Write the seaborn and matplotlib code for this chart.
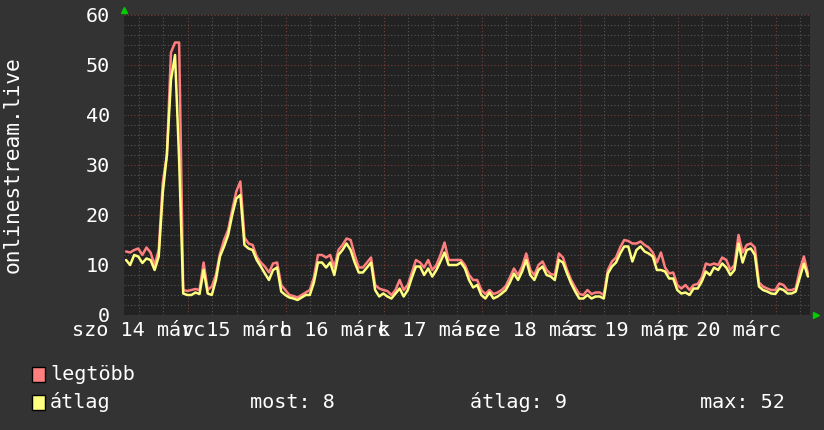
import numpy as np
import pandas as pd
import matplotlib
matplotlib.use("Agg")
import matplotlib.pyplot as plt
import matplotlib.transforms as mtransforms
from matplotlib.patches import Rectangle
import seaborn as sns

# orankenti mintak, kezdet: 2020-03-14 08:20
hours = np.arange(168)

legtobb = [
    12.7, 12.5, 13.0, 13.3, 12.0, 13.5, 12.5, 10.0, 13.0, 26.5, 32.0, 52.5, 54.5, 54.5,
    5.0, 4.8, 5.0, 5.2, 5.0, 10.5, 5.0, 5.7, 8.0, 12.3, 15.0, 17.0, 21.0, 24.7, 26.7,
    15.5, 14.3, 14.0, 11.7, 10.5, 9.7, 8.5, 10.3, 10.5, 6.0, 5.0, 4.0, 3.8, 3.5, 4.0,
    4.5, 5.0, 7.5, 12.0, 12.0, 11.5, 12.0, 9.5, 13.0, 14.0, 15.3, 15.0, 12.0, 9.5,
    9.5, 10.5, 11.5, 6.0, 5.3, 5.0, 4.8, 4.0, 5.0, 7.0, 5.0, 6.0, 8.5, 11.0, 10.5,
    9.5, 11.0, 9.0, 10.0, 12.0, 14.5, 11.0, 11.0, 11.0, 11.0, 10.0, 8.0, 7.0, 7.0,
    5.0, 4.2, 5.0, 4.2, 4.5, 5.0, 5.8, 7.5, 9.3, 8.0, 9.7, 12.3, 9.0, 8.0, 10.0,
    10.7, 9.0, 8.2, 8.0, 12.3, 11.5, 9.0, 7.0, 5.5, 4.2, 4.0, 5.0, 4.2, 4.5, 4.5,
    4.0, 9.0, 10.7, 11.5, 13.5, 15.0, 14.8, 14.3, 14.3, 14.7, 14.0, 13.5, 12.5,
    10.5, 12.5, 9.5, 8.3, 8.5, 6.0, 5.3, 6.0, 5.0, 6.0, 6.2, 7.5, 10.3, 10.0, 10.3,
    10.0, 11.5, 11.0, 9.0, 10.0, 16.0, 12.5, 14.0, 14.3, 13.5, 6.5, 5.7, 5.3, 5.0,
    5.0, 6.3, 6.0, 5.0, 5.0, 5.3, 9.0, 11.7, 8.3,
]

atlag = [
    11.0, 10.0, 12.0, 11.7, 10.4, 11.3, 11.0, 9.0, 11.7, 24.5, 32.0, 47.0, 52.0, 31.0,
    4.3, 4.0, 4.0, 4.5, 4.2, 9.0, 4.3, 4.0, 7.0, 11.7, 13.7, 16.0, 20.0, 23.3, 24.0,
    14.0, 13.3, 13.0, 11.0, 9.7, 8.3, 7.0, 9.0, 9.5, 4.7, 4.0, 3.5, 3.3, 3.0, 3.5,
    4.0, 4.0, 6.5, 10.5, 10.5, 9.5, 10.5, 8.0, 12.0, 13.0, 14.3, 13.0, 10.5, 8.5,
    8.5, 9.5, 10.5, 5.0, 3.7, 4.3, 3.7, 3.3, 4.3, 5.3, 3.7, 5.0, 7.5, 9.7, 9.7,
    8.0, 9.3, 7.7, 9.0, 10.7, 12.5, 10.0, 10.0, 10.0, 10.5, 9.3, 7.0, 5.5, 6.0,
    4.0, 3.3, 4.5, 3.3, 3.7, 4.3, 5.0, 6.5, 8.3, 7.0, 8.7, 11.0, 8.0, 7.0, 9.0,
    9.7, 8.0, 7.7, 7.0, 11.0, 10.5, 8.3, 6.3, 4.7, 3.3, 3.3, 4.0, 3.3, 3.7, 3.7,
    3.3, 8.3, 9.7, 10.5, 12.3, 13.7, 13.7, 10.7, 13.0, 13.7, 12.7, 12.3, 11.7,
    9.0, 9.0, 8.7, 7.3, 7.3, 5.0, 4.3, 4.5, 4.0, 5.3, 5.3, 6.7, 8.7, 8.0, 9.5,
    9.0, 10.3, 9.5, 8.0, 9.0, 14.3, 10.5, 13.0, 13.3, 12.0, 5.7, 5.0, 4.7, 4.3,
    4.2, 5.3, 5.0, 4.3, 4.3, 4.7, 7.5, 10.3, 7.7,
]

day_labels = ["szo 14 márc", "v 15 márc", "h 16 márc", "k 17 márc",
              "sze 18 márc", "cs 19 márc", "p 20 márc"]
first_midnight = 15.67   # 03-15 00:00 orakban a kezdettol

legend_names = ["legtöbb", "átlag"]
stats_text = ["most: 8", "átlag: 9", "max: 52"]

BG = "#333333"
PLOT_BG = "#222222"
RED = "#ff7f7f"
YELLOW = "#ffff7f"
FONT = "DejaVu Sans Mono"

sns.set_theme(style="dark")
plt.rcParams["font.family"] = [FONT, "DejaVu Sans"]

W, H = 824, 430
fig = plt.figure(figsize=(W / 100, H / 100), dpi=100, facecolor=BG)
ax = fig.add_axes([124 / W, 115 / H, 686 / W, 300 / H])
ax.set_facecolor(PLOT_BG)

# mintak az ora kozepen
df = pd.DataFrame({
    "ora": hours + 0.5,
    "legtöbb": legtobb,
    "átlag": atlag,
})

sns.lineplot(data=df, x="ora", y="legtöbb", ax=ax, color=RED, lw=1.8, zorder=3)
sns.lineplot(data=df, x="ora", y="átlag", ax=ax, color=YELLOW, lw=1.8, zorder=4)

ax.set_xlim(0, 168)
ax.set_ylim(0, 60)

# racsok
midnights = np.arange(first_midnight, 168, 24)
quarters = np.arange(first_midnight - 12, 168, 6)
ax.set_xticks(midnights)
ax.set_xticks(quarters, minor=True)
ax.set_yticks(np.arange(0, 61, 10))
ax.set_yticks(np.arange(0, 61, 2), minor=True)
ax.set_axisbelow(True)
ax.grid(which="minor", color="#555555", lw=0.8, ls=(0, (1, 2)))
ax.grid(which="major", color="#7a3c3c", lw=0.8, ls=(0, (1, 2)))
ax.set_xticklabels([])
ax.tick_params(axis="x", which="both", length=0)
ax.tick_params(axis="y", which="both", length=2, color="#666666",
               labelsize=14.5, labelcolor="white", pad=8)
for s in ax.spines.values():
    s.set_visible(False)

ax.set_xlabel("")
ax.set_ylabel("")
fig.text(13 / W, 1 - 165 / H, "onlinestream.live", rotation=90,
         ha="center", va="center", fontsize=15.3, color="white")

# nap feliratok a nap kozepen
trans = mtransforms.blended_transform_factory(ax.transData, ax.transAxes)
for i, lab in enumerate(day_labels):
    ax.text(first_midnight - 12 + 24 * i, -0.05, lab, transform=trans,
            ha="center", va="center", fontsize=14.5, color="white", clip_on=False)

# zold nyilak
ax.plot([0.0], [1.0 + 5 / 300], marker="^", color="#00cc00", ms=5,
        transform=ax.transAxes, clip_on=False, zorder=5)
ax.plot([1.0 + 6 / 686], [0.0], marker=">", color="#00cc00", ms=5,
        transform=ax.transAxes, clip_on=False, zorder=5)

# jelmagyarazat
for i, (name, col) in enumerate(zip(legend_names, [RED, YELLOW])):
    yc = 374 + 28 * i
    fig.add_artist(Rectangle((32 / W, 1 - (yc + 7.5) / H), 13 / W, 15 / H,
                             transform=fig.transFigure, facecolor=col,
                             edgecolor="black", lw=1))
    fig.text(50 / W, 1 - yc / H, name, ha="left", va="center",
             fontsize=14.5, color="white")

for x, t in zip([250, 470, 700], stats_text):
    fig.text(x / W, 1 - 402 / H, t, ha="left", va="center",
             fontsize=14.5, color="white")

fig.savefig("out.png", dpi=100, facecolor=BG)
